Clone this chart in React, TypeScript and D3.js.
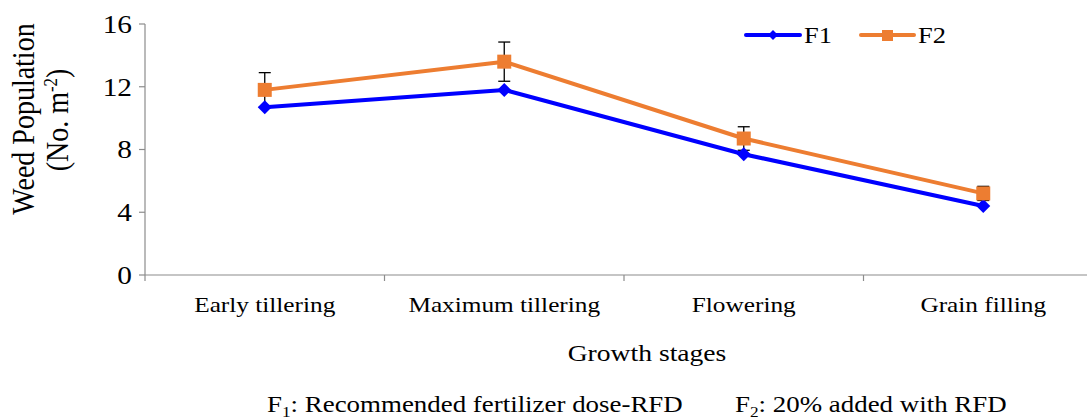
import React from "react";
import * as d3 from "d3";

const stages = ["Early tillering", "Maximum tillering", "Flowering", "Grain filling"];
const f1Values = [10.7, 11.8, 7.7, 4.4];
const f2Values = [11.8, 13.6, 8.7, 5.2];
const f2Errors = [1.1, 1.25, 0.75, 0.45];
const yTicks = [0, 4, 8, 12, 16];
const seriesNames = ["F1", "F2"];

const W = 1087;
const H = 420;
const SX = 1.15;
const FONT = "Liberation Serif, Times New Roman, Times, serif";
const BLUE = "#0000FF";
const ORANGE = "#ED7D31";
const AXIS = "#8C8C8C";

export default function App() {
  const x = d3.scalePoint<string>().domain(stages).range([145, 1103]).padding(0.5);
  const band = x.step();
  const y = d3.scaleLinear().domain([0, 16]).range([275, 24]);

  const line = d3
    .line<number>()
    .x((_, i) => x(stages[i]) as number)
    .y((d) => y(d));

  const diamond = (cx: number, cy: number, r: number) =>
    `M${cx},${cy - r}L${cx + r},${cy}L${cx},${cy + r}L${cx - r},${cy}Z`;

  const boundaries = stages.slice(1).map((s) => (x(s) as number) - band / 2);

  const T = (
    tx: number,
    ty: number,
    content: React.ReactNode,
    size: number,
    anchor: string = "middle"
  ) => (
    <text
      transform={`translate(${tx},${ty}) scale(${SX},1)`}
      textAnchor={anchor}
      fontSize={size}
      fill="#000"
    >
      {content}
    </text>
  );

  return (
    <svg
      width={W}
      height={H}
      style={{ position: "absolute", left: 0, top: 0, background: "#fff", fontFamily: FONT }}
    >
      {/* axes */}
      <line x1={145} x2={145} y1={y(16)} y2={281} stroke={AXIS} strokeWidth={1.2} />
      <line x1={145} x2={1103} y1={y(0)} y2={y(0)} stroke={AXIS} strokeWidth={1.2} />
      {yTicks.map((t) => (
        <g key={t}>
          <line x1={139} x2={145} y1={y(t)} y2={y(t)} stroke={AXIS} strokeWidth={1.2} />
          {T(132, y(t) + 8.8, String(t), 25.5, "end")}
        </g>
      ))}
      {boundaries.map((b, i) => (
        <line key={i} x1={b} x2={b} y1={y(0)} y2={281} stroke={AXIS} strokeWidth={1.2} />
      ))}
      {stages.map((s) => (
        <g key={s}>{T(x(s) as number, 312, s, 22)}</g>
      ))}

      {/* axis titles */}
      <g transform={`translate(34,119) scale(${SX},1) rotate(-90)`}>
        <text textAnchor="middle" fontSize={28} fill="#000">
          Weed Population
        </text>
      </g>
      <g transform={`translate(68,120) scale(${SX},1) rotate(-90)`}>
        <text textAnchor="middle" fontSize={28} fill="#000">
          (No. m
          <tspan fontSize={17} dy={-10}>
            -2
          </tspan>
          <tspan dy={10}>)</tspan>
        </text>
      </g>
      {T(647, 361, "Growth stages", 24)}

      {/* error bars */}
      {stages.map((s, i) => {
        const cx = x(s) as number;
        const top = y(f2Values[i] + f2Errors[i]);
        const bot = y(f2Values[i] - f2Errors[i]);
        return (
          <g key={s} stroke="#000" strokeWidth={1.3}>
            <line x1={cx} x2={cx} y1={top} y2={bot} />
            <line x1={cx - 6} x2={cx + 6} y1={top} y2={top} />
            <line x1={cx - 6} x2={cx + 6} y1={bot} y2={bot} />
          </g>
        );
      })}

      {/* series */}
      <path d={line(f1Values) as string} fill="none" stroke={BLUE} strokeWidth={4} strokeLinejoin="round" />
      {f1Values.map((v, i) => (
        <path key={i} d={diamond(x(stages[i]) as number, y(v), 7)} fill={BLUE} />
      ))}
      <path d={line(f2Values) as string} fill="none" stroke={ORANGE} strokeWidth={4} strokeLinejoin="round" />
      {f2Values.map((v, i) => (
        <rect
          key={i}
          x={(x(stages[i]) as number) - 7}
          y={y(v) - 7}
          width={14}
          height={14}
          fill={ORANGE}
        />
      ))}

      {/* legend */}
      <line x1={746} x2={800} y1={35} y2={35} stroke={BLUE} strokeWidth={4} strokeLinecap="round" />
      <path d={diamond(773, 35, 5)} fill={BLUE} />
      {T(804, 43, seriesNames[0], 23, "start")}
      <line x1={861} x2={914} y1={35} y2={35} stroke={ORANGE} strokeWidth={4} strokeLinecap="round" />
      <rect x={882} y={30} width={11} height={11} fill={ORANGE} />
      {T(918, 43, seriesNames[1], 23, "start")}

      {/* footnote */}
      {T(
        267,
        412,
        <>
          F<tspan fontSize={15} dy={5}>1</tspan>
          <tspan dy={-5}>: Recommended fertilizer dose-RFD</tspan>
        </>,
        23.4,
        "start"
      )}
      {T(
        735,
        412,
        <>
          F<tspan fontSize={15} dy={5}>2</tspan>
          <tspan dy={-5}>: 20% added with RFD</tspan>
        </>,
        23.4,
        "start"
      )}
    </svg>
  );
}
